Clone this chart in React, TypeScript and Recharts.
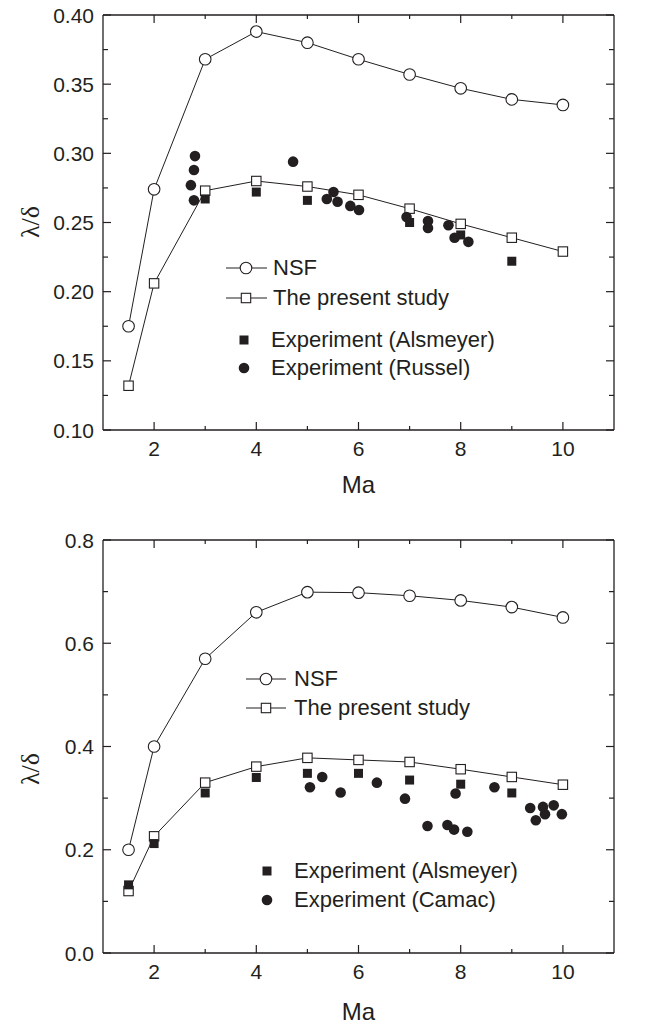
import { ScatterChart, Scatter, XAxis, YAxis, Legend } from "recharts";

const FONT = '"Liberation Sans", Arial, Helvetica, sans-serif';
const SERIF = '"Liberation Serif", "DejaVu Serif", serif';
const INK = "#231f20";

// Mach numbers of the computed curves
const maGrid = [1.5, 2, 3, 4, 5, 6, 7, 8, 9, 10];

// upper panel
const topNsf = [0.175, 0.274, 0.368, 0.388, 0.38, 0.368, 0.357, 0.347, 0.339, 0.335];
const topPresent = [0.132, 0.206, 0.273, 0.28, 0.276, 0.27, 0.26, 0.249, 0.239, 0.229];
const topAlsMa = [3, 4, 5, 7, 8, 9];
const topAls = [0.267, 0.272, 0.266, 0.25, 0.241, 0.222];
const russelMa = [2.8, 2.78, 2.72, 2.78, 4.72, 5.38, 5.51, 5.59, 5.84, 6.01, 6.94, 7.36, 7.36, 7.76, 7.88, 8.15];
const russel = [0.298, 0.288, 0.277, 0.266, 0.294, 0.267, 0.272, 0.265, 0.262, 0.259, 0.254, 0.251, 0.246, 0.248, 0.239, 0.236];

// lower panel
const botNsf = [0.2, 0.4, 0.57, 0.66, 0.699, 0.698, 0.692, 0.683, 0.67, 0.65];
const botPresent = [0.12, 0.226, 0.33, 0.361, 0.378, 0.374, 0.37, 0.356, 0.341, 0.326];
const botAlsMa = [1.5, 2, 3, 4, 5, 6, 7, 8, 9];
const botAls = [0.132, 0.212, 0.31, 0.34, 0.348, 0.348, 0.335, 0.327, 0.31];
const camacMa = [5.05, 5.29, 5.65, 6.36, 6.91, 7.35, 7.74, 7.87, 7.9, 8.13, 8.66, 9.36, 9.47, 9.61, 9.65, 9.82, 9.98];
const camac = [0.321, 0.341, 0.311, 0.33, 0.299, 0.246, 0.248, 0.239, 0.309, 0.235, 0.321, 0.281, 0.257, 0.283, 0.269, 0.286, 0.269];

// axes
const xTicks = [2, 3, 4, 5, 6, 7, 8, 9, 10];
const xLabels = [2, 4, 6, 8, 10];
const topYTicks = [0.1, 0.125, 0.15, 0.175, 0.2, 0.225, 0.25, 0.275, 0.3, 0.325, 0.35, 0.375, 0.4];
const topYLabels = [0.1, 0.15, 0.2, 0.25, 0.3, 0.35, 0.4];
const botYTicks = [0, 0.1, 0.2, 0.3, 0.4, 0.5, 0.6, 0.7, 0.8];
const botYLabels = [0, 0.2, 0.4, 0.6, 0.8];

const topLegendNames = ["NSF", "The present study", "Experiment (Alsmeyer)", "Experiment (Russel)"];
const botLegendNames = ["NSF", "The present study", "Experiment (Alsmeyer)", "Experiment (Camac)"];

type Pt = { x: number; y: number };
const zip = (xs: number[], ys: number[]): Pt[] => xs.map((x, i) => ({ x, y: ys[i] }));
const isIn = (list: number[], v: number) => list.some((m) => Math.abs(m - v) < 1e-9);

const OpenCircle = (p: any) => <circle cx={p.cx} cy={p.cy} r={5.8} fill="#fff" stroke={INK} strokeWidth={1.1} />;
const OpenSquare = (p: any) => <rect x={p.cx - 4.7} y={p.cy - 4.7} width={9.4} height={9.4} fill="#fff" stroke={INK} strokeWidth={1.1} />;
const FilledSquare = (p: any) => <rect x={p.cx - 4.5} y={p.cy - 4.5} width={9} height={9} fill={INK} />;
const FilledCircle = (p: any) => <circle cx={p.cx} cy={p.cy} r={5.3} fill={INK} />;

const shapes = [OpenCircle, OpenSquare, FilledSquare, FilledCircle];

const bottomTick = (p: any) => {
    const v = p.payload.value;
    const major = isIn(xLabels, v);
    return (
        <g>
            <line x1={p.x} x2={p.x} y1={p.y} y2={p.y - (major ? 8 : 4)} stroke={INK} strokeWidth={1.2} />
            {major && (
                <text x={p.x} y={p.y + 18} textAnchor="middle" dominantBaseline="central"
                    fontFamily={FONT} fontSize={21} fill={INK}>{v}</text>
            )}
        </g>
    );
};

const topTick = (p: any) => {
    const major = isIn(xLabels, p.payload.value);
    return <line x1={p.x} x2={p.x} y1={p.y} y2={p.y + (major ? 8 : 4)} stroke={INK} strokeWidth={1.2} />;
};

const leftTick = (labels: number[], digits: number) => (p: any) => {
    const v = p.payload.value;
    const major = isIn(labels, v);
    return (
        <g>
            <line x1={p.x} x2={p.x + (major ? 8 : 5)} y1={p.y} y2={p.y} stroke={INK} strokeWidth={1.2} />
            {major && (
                <text x={p.x - 9} y={p.y} textAnchor="end" dominantBaseline="central"
                    fontFamily={FONT} fontSize={21} fill={INK}>{v.toFixed(digits)}</text>
            )}
        </g>
    );
};

const rightTick = (labels: number[]) => (p: any) => {
    const major = isIn(labels, p.payload.value);
    return <line x1={p.x} x2={p.x - (major ? 8 : 5)} y1={p.y} y2={p.y} stroke={INK} strokeWidth={1.2} />;
};

type LegendRow = { lineX0: number; lineX1: number; markX: number; textX: number; cy: number };

function LegendBlock({ names, rows }: { names: string[]; rows: LegendRow[] }) {
    return (
        <div style={{ position: "relative", width: 0, height: 0 }}>
            {rows.map((r, i) => {
                const Mark = shapes[i];
                return (
                    <div key={names[i]}>
                        <svg style={{ position: "absolute", left: 0, top: r.cy - 10, overflow: "visible" }} width={671} height={20}>
                            {i < 2 && <line x1={r.lineX0} x2={r.lineX1} y1={10} y2={10} stroke={INK} strokeWidth={1} />}
                            <Mark cx={r.markX} cy={10} />
                        </svg>
                        <span style={{
                            position: "absolute", left: r.textX, top: r.cy - 11, whiteSpace: "nowrap",
                            fontFamily: FONT, fontSize: 22, lineHeight: "22px", color: INK,
                        }}>{names[i]}</span>
                    </div>
                );
            })}
        </div>
    );
}

type PanelProps = {
    top: number;
    height: number;
    marginTop: number;
    xAxisHeight: number;
    yDomain: [number, number];
    yTicks: number[];
    yLabels: number[];
    digits: number;
    nsf: number[];
    present: number[];
    alsMa: number[];
    als: number[];
    expMa: number[];
    exp: number[];
    names: string[];
    legend: LegendRow[];
    yTitleY: number;
    maOffset: number;
};

function Panel(p: PanelProps) {
    const yTitle = () => (
        <text x={30} y={p.yTitleY} transform={`rotate(-90 30 ${p.yTitleY})`} textAnchor="middle"
            dominantBaseline="central" fontFamily={SERIF} fontSize={26} fill={INK}>λ/δ</text>
    );
    return (
        <div style={{ position: "absolute", left: 0, top: p.top }}>
            <ScatterChart width={671} height={p.height} margin={{ top: p.marginTop - 1, right: 56, bottom: 0, left: 0 }}>
                <XAxis xAxisId="b" type="number" dataKey="x" domain={[1, 11]} allowDataOverflow ticks={xTicks} interval={0}
                    height={p.xAxisHeight} tickLine={false} tickSize={0} tickMargin={0} tick={bottomTick}
                    axisLine={{ stroke: INK, strokeWidth: 1.3 }}
                    label={{ value: "Ma", position: "insideTop", offset: p.maOffset, fill: INK, fontSize: 24, fontFamily: FONT }} />
                <XAxis xAxisId="t" orientation="top" type="number" dataKey="x" domain={[1, 11]} allowDataOverflow ticks={xTicks}
                    interval={0} height={1} tickLine={false} tickSize={0} tickMargin={0} tick={topTick}
                    axisLine={{ stroke: INK, strokeWidth: 1.3 }} />
                <YAxis yAxisId="l" type="number" dataKey="y" domain={p.yDomain} allowDataOverflow ticks={p.yTicks} interval={0}
                    width={103} tickLine={false} tickSize={0} tickMargin={0} tick={leftTick(p.yLabels, p.digits)}
                    axisLine={{ stroke: INK, strokeWidth: 1.3 }} label={{ content: yTitle }} />
                <YAxis yAxisId="r" orientation="right" type="number" dataKey="y" domain={p.yDomain} allowDataOverflow ticks={p.yTicks}
                    interval={0} width={1} tickLine={false} tickSize={0} tickMargin={0} tick={rightTick(p.yLabels)}
                    axisLine={{ stroke: INK, strokeWidth: 1.3 }} />
                <Legend verticalAlign="top" wrapperStyle={{ left: 0, top: 0, width: 0, height: 0, overflow: "visible" }}
                    content={() => <LegendBlock names={p.names} rows={p.legend} />} />
                <Scatter xAxisId="b" yAxisId="l" name={p.names[0]} data={zip(maGrid, p.nsf)} shape={OpenCircle}
                    line={{ stroke: INK, strokeWidth: 1 }} isAnimationActive={false} />
                <Scatter xAxisId="b" yAxisId="l" name={p.names[1]} data={zip(maGrid, p.present)} shape={OpenSquare}
                    line={{ stroke: INK, strokeWidth: 1 }} isAnimationActive={false} />
                <Scatter xAxisId="b" yAxisId="l" name={p.names[2]} data={zip(p.alsMa, p.als)} shape={FilledSquare}
                    isAnimationActive={false} />
                <Scatter xAxisId="b" yAxisId="l" name={p.names[3]} data={zip(p.expMa, p.exp)} shape={FilledCircle}
                    isAnimationActive={false} />
            </ScatterChart>
        </div>
    );
}

export default function App() {
    return (
        <div style={{ position: "absolute", left: 0, top: 0, width: 671, height: 1027, background: "#fff" }}>
            <Panel top={0} height={500} marginTop={15} xAxisHeight={70} yDomain={[0.1, 0.4]}
                yTicks={topYTicks} yLabels={topYLabels} digits={2}
                nsf={topNsf} present={topPresent} alsMa={topAlsMa} als={topAls} expMa={russelMa} exp={russel}
                names={topLegendNames} yTitleY={222} maOffset={46}
                legend={[
                    { lineX0: 226, lineX1: 267, markX: 246, textX: 273, cy: 268 },
                    { lineX0: 226, lineX1: 267, markX: 246, textX: 273, cy: 298 },
                    { lineX0: 0, lineX1: 0, markX: 244, textX: 271, cy: 340 },
                    { lineX0: 0, lineX1: 0, markX: 244, textX: 271, cy: 368 },
                ]} />
            <Panel top={500} height={527} marginTop={40} xAxisHeight={74} yDomain={[0, 0.8]}
                yTicks={botYTicks} yLabels={botYLabels} digits={1}
                nsf={botNsf} present={botPresent} alsMa={botAlsMa} als={botAls} expMa={camacMa} exp={camac}
                names={botLegendNames} yTitleY={269} maOffset={50}
                legend={[
                    { lineX0: 246, lineX1: 286, markX: 266, textX: 294, cy: 179 },
                    { lineX0: 246, lineX1: 286, markX: 266, textX: 294, cy: 208 },
                    { lineX0: 0, lineX1: 0, markX: 267, textX: 294, cy: 371 },
                    { lineX0: 0, lineX1: 0, markX: 267, textX: 294, cy: 400 },
                ]} />
        </div>
    );
}
